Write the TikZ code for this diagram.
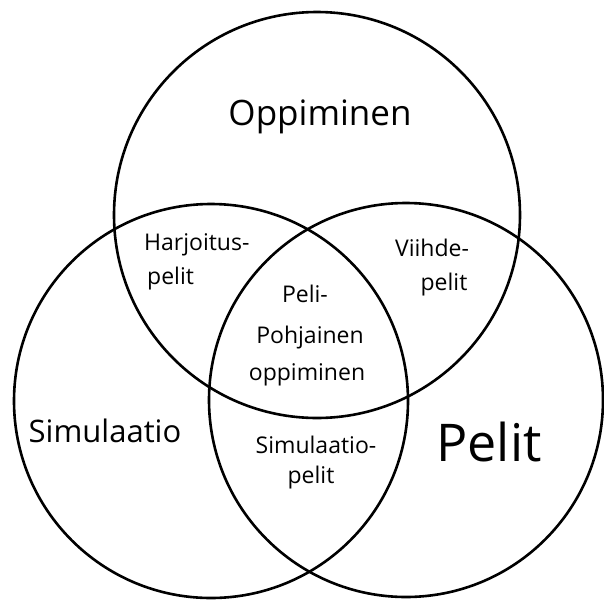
\documentclass[tikz,border=0pt]{standalone}
\usepackage{fontspec}
\setmainfont{Open Sans}
\begin{document}
\begin{tikzpicture}[x=1pt,y=-1pt,
  setcircle/.style={circle,draw=black,line width=2.6pt,inner sep=0pt,minimum size=#1},
  biglabel/.style={font=\fontsize{35}{40}\selectfont,inner sep=0pt},
  smalllabel/.style={font=\fontsize{23}{27}\selectfont,inner sep=0pt,align=center}]
\useasboundingbox (0,0) rectangle (604,606);
\fill[white] (0,0) rectangle (604,606);
\node[setcircle=406pt] (topc) at (317,215) {};
\node[setcircle=394pt] (leftc) at (211,401) {};
\node[setcircle=394pt] (rightc) at (406,400) {};
\node[biglabel] (opp) at (320,117) {Oppiminen};
\node[biglabel,font=\fontsize{31}{36}\selectfont] (sim) at (105,431) {Simulaatio};
\node[biglabel,font=\fontsize{52}{56}\selectfont] (pel) at (489,442) {Pelit};
\node[smalllabel,anchor=west] (harj1) at (144,245) {Harjoitus-};
\node[smalllabel,anchor=west] (harj2) at (147,279) {pelit};
\node[smalllabel] (viih1) at (432,248) {Viihde-};
\node[smalllabel] (viih2) at (444,285) {pelit};
\node[smalllabel] (pp1) at (305,294) {Peli-};
\node[smalllabel] (pp2) at (310,338) {Pohjainen};
\node[smalllabel] (pp3) at (307,375) {oppiminen};
\node[smalllabel] (sp1) at (316,445) {Simulaatio-};
\node[smalllabel] (sp2) at (311,478) {pelit};
\end{tikzpicture}
\end{document}
